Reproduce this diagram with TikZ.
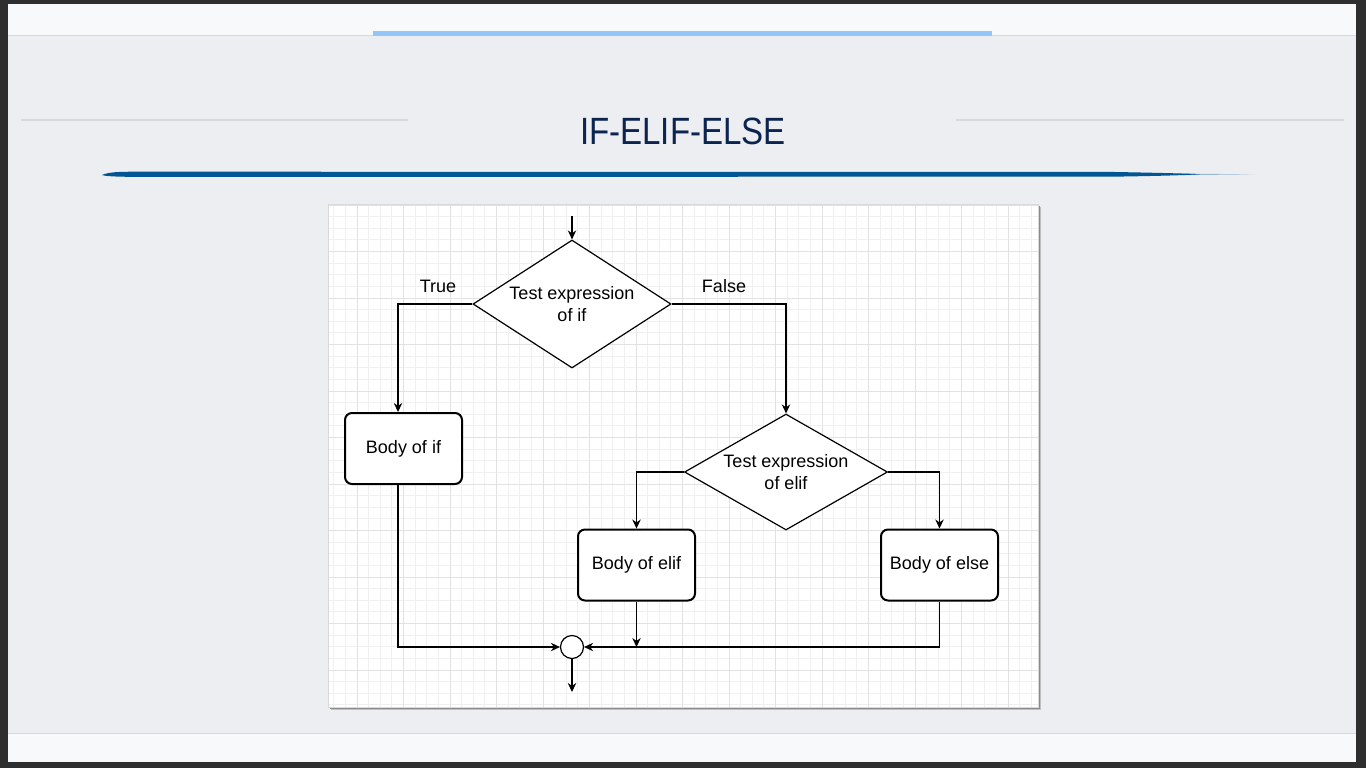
\documentclass[tikz,border=0pt]{standalone}
\usepackage{fontspec}
\setmainfont{Liberation Sans}
\usetikzlibrary{shapes.geometric,arrows.meta,calc}

\definecolor{framegray}{HTML}{2E2E2E}
\definecolor{slidebg}{HTML}{EDEEF2}
\definecolor{bandbg}{HTML}{F8F9FB}
\definecolor{barblue}{HTML}{93C5F6}
\definecolor{rulegray}{HTML}{D8D9DD}
\definecolor{titleblue}{HTML}{0C2550}
\definecolor{swooshblue}{HTML}{005594}
\definecolor{gridminor}{HTML}{F0F0F0}
\definecolor{gridmajor}{HTML}{E2E2E2}

\tikzset{
	cond/.style={diamond, draw, line width=0.6pt, fill=white, inner sep=0pt, align=center, font=\fontsize{9}{11}\selectfont},
	body/.style={rectangle, rounded corners=3.5pt, draw, line width=1pt, fill=white, minimum width=58.5pt, minimum height=35.5pt, font=\fontsize{9}{11}\selectfont},
	flow/.style={line width=0.55pt, -{Stealth[length=4.5pt,width=4.2pt]}},
	label/.style={font=\fontsize{9}{11}\selectfont, inner sep=0pt}
}

\begin{document}
\begin{tikzpicture}[x=0.5pt, y=-0.5pt]

	\useasboundingbox (0,0) rectangle (1366,768);

	% slide
	\fill[framegray] (0,0) rectangle (1366,768);
	\fill[slidebg] (8,4) rectangle (1356,762);
	\fill[bandbg] (8,4) rectangle (1356,35);
	\draw[rulegray, line width=0.8pt] (8,35.5) -- (1356,35.5);
	\fill[barblue] (373,31) rectangle (992,35.5);
	\fill[bandbg] (8,733) rectangle (1356,762);
	\draw[rulegray, line width=0.5pt] (8,733) -- (1356,733);

	% title
	\draw[rulegray, line width=1pt] (21,119.5) -- (408,119.5);
	\draw[rulegray, line width=1pt] (956,119.5) -- (1344,119.5);
	\node[text=titleblue, font=\fontsize{19}{22}\selectfont] (title) at (683,131) {\scalebox{0.87}[1]{IF-ELIF-ELSE}};
	\fill[swooshblue] (102,175) .. controls (108,172) and (120,171.7) .. (135,171.7) -- (1110,171.9) .. controls (1160,172.8) and (1190,173.6) .. (1200,174.2) .. controls (1190,175) and (1160,176) .. (1110,176.7) -- (135,176.8) .. controls (115,176.8) and (106,176.2) .. (102,175) -- cycle;
	\fill[swooshblue, opacity=0.35] (1180,173.6) -- (1255,174.3) -- (1180,175.2) -- cycle;

	% panel with grid
	\fill[black!25] (331,207) rectangle (1041,710);
	\fill[black!45] (330,206) rectangle (1039.5,708.5);
	\fill[white] (328,204) rectangle (1038,707);
	\foreach \k in {0,...,60}
		\draw[gridminor, line width=0.5pt] ({333.75+11.625*\k},204) -- ++(0,503);
	\foreach \k in {0,...,43}
		\draw[gridminor, line width=0.5pt] (328,{205+11.625*\k}) -- ++(710,0);
	\foreach \k in {0,...,14}
		\draw[gridmajor, line width=0.5pt] ({357+46.5*\k},204) -- ++(0,503);
	\foreach \k in {0,...,10}
		\draw[gridmajor, line width=0.5pt] (328,{205+46.5*\k}) -- ++(710,0);
	\draw[black!15, line width=0.5pt] (328,204) rectangle (1038,707);

	% flowchart
	\coordinate (start) at (572,216);
	\coordinate (exit) at (572,692);
	\node[cond, minimum width=99pt, minimum height=64pt, aspect=1.55] (testif) at (572,304) {Test expression\\of if};
	\node[cond, minimum width=101.5pt, minimum height=58pt, aspect=1.75] (testelif) at (786,472) {Test expression\\of elif};
	\node[body] (bodyif) at (403.5,448.5) {Body of if};
	\node[body] (bodyelif) at (636.5,565) {Body of elif};
	\node[body] (bodyelse) at (939.5,565) {Body of else};
	\node[circle, draw, line width=0.6pt, fill=white, minimum size=11.5pt, inner sep=0pt] (join) at (572,647) {};
	\node[label] (true) at (438,286) {True};
	\node[label] (false) at (724,286) {False};

	\draw[flow] (start) -- (testif.north);
	\draw[flow] (testif.west) -| ([xshift=-2.75pt]bodyif.north);
	\draw[flow] ([xshift=-2.75pt]bodyif.south) |- (join.west);
	\draw[flow] (testif.east) -| (testelif.north);
	\draw[flow] (testelif.west) -| (bodyelif.north);
	\draw[flow] (testelif.east) -| (bodyelse.north);
	\draw[flow] (bodyelif.south) -- (bodyelif.south |- join);
	\draw[flow] (bodyelse.south) |- (join.east);
	\draw[flow] (join.south) -- (exit);

\end{tikzpicture}
\end{document}
